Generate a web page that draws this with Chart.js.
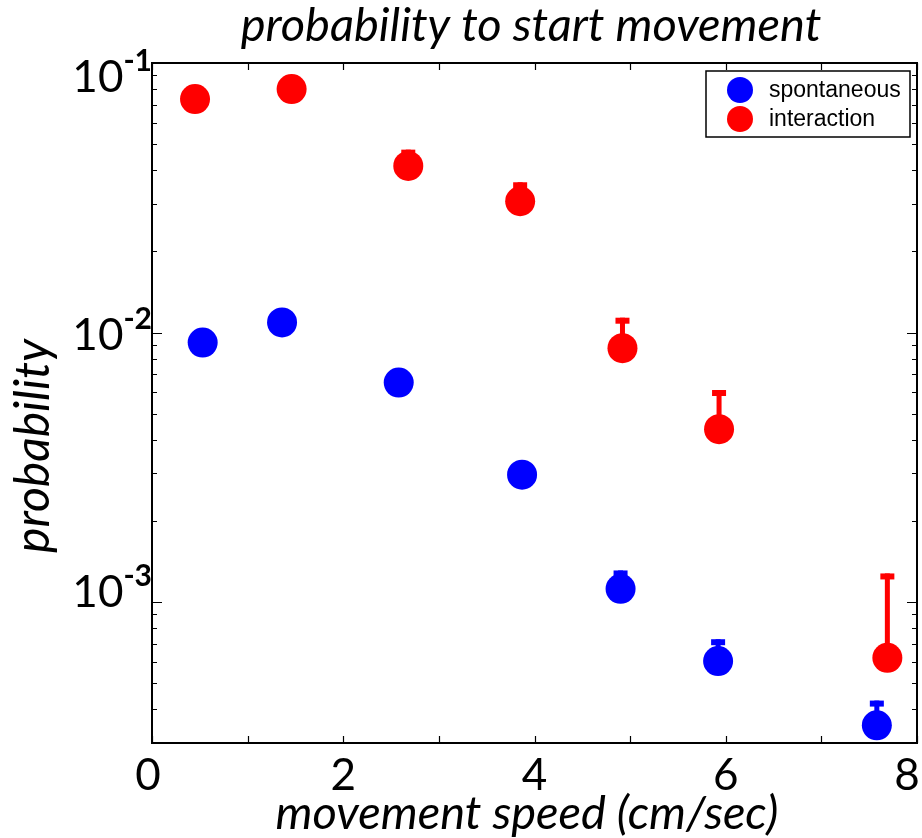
<!DOCTYPE html>
<html>
<head>
<meta charset="utf-8">
<script src="https://cdn.jsdelivr.net/npm/chart.js@4.4.1/dist/chart.umd.min.js"></script>
<style>
  html, body { margin: 0; padding: 0; background: #fff; }
  #wrap { width: 922px; height: 838px; }
</style>
</head>
<body>
<div id="wrap"><canvas id="chart" width="922" height="838"></canvas></div>
<script>
// speed (cm/sec), probability, and upper end of the error bar
const speedInteraction = [0.45, 1.46, 2.68, 3.85, 4.92, 5.93, 7.69];
const probInteraction  = [0.0735, 0.080, 0.0415, 0.0307, 0.00875, 0.00438, 0.000621];
const upperInteraction = [0.0735, 0.080, 0.0477, 0.0361, 0.01135, 0.00612, 0.001277];

const speedSpontaneous = [0.53, 1.36, 2.58, 3.87, 4.90, 5.92, 7.58];
const probSpontaneous  = [0.00918, 0.0109, 0.00652, 0.00297, 0.00112, 0.000604, 0.000349];
const upperSpontaneous = [0.00918, 0.0109, 0.00652, 0.00297, 0.00131, 0.000728, 0.000431];

const xTicks = [0, 1, 2, 3, 4, 5, 6, 7, 8];
const xTickLabels = ['0', '', '2', '', '4', '', '6', '', '8'];
const yMajor = [0.1, 0.01, 0.001];
const yMajorExp = ['-1', '-2', '-3'];

const RED = '#ff0000';
const BLUE = '#0000ff';
const CAL = 'Lato, "Open Sans", sans-serif';

const toPoints = (xs, ys) => xs.map((x, i) => ({ x: x, y: ys[i] }));

// small up-only error bars, drawn under the markers
const errorBars = {
  id: 'errorBars',
  beforeDatasetsDraw(chart) {
    const { ctx, scales } = chart;
    const sets = [
      { xs: speedInteraction, ys: probInteraction, up: upperInteraction, color: RED },
      { xs: speedSpontaneous, ys: probSpontaneous, up: upperSpontaneous, color: BLUE }
    ];
    ctx.save();
    sets.forEach(s => {
      ctx.fillStyle = s.color;
      s.xs.forEach((x, i) => {
        if (s.up[i] <= s.ys[i]) return;
        const px = scales.x.getPixelForValue(x);
        const py = scales.y.getPixelForValue(s.ys[i]);
        const top = scales.y.getPixelForValue(s.up[i]);
        ctx.fillRect(px - 2.5, top, 5, py - top);
        ctx.fillRect(px - 7, top, 14, 6);
      });
    });
    ctx.restore();
  }
};

// axes box, inward ticks, labels, titles and legend in the matlab style
const frame = {
  id: 'frame',
  afterDraw(chart) {
    const { ctx, chartArea: a, scales } = chart;
    ctx.save();
    ctx.strokeStyle = '#000';
    ctx.lineWidth = 2;
    ctx.strokeRect(a.left, a.top, a.right - a.left, a.bottom - a.top);

    ctx.lineWidth = 1.2;
    ctx.beginPath();
    xTicks.forEach(v => {
      const px = Math.round(scales.x.getPixelForValue(v)) + 0.5;
      ctx.moveTo(px, a.bottom); ctx.lineTo(px, a.bottom - 7);
      ctx.moveTo(px, a.top); ctx.lineTo(px, a.top + 7);
    });
    for (let e = -4; e <= -1; e++) {
      for (let m = 1; m <= 9; m++) {
        const v = m * Math.pow(10, e);
        if (v < scales.y.min || v > scales.y.max) continue;
        const py = Math.round(scales.y.getPixelForValue(v)) + 0.5;
        const len = m === 1 ? 10 : 5;
        ctx.moveTo(a.left, py); ctx.lineTo(a.left + len, py);
        ctx.moveTo(a.right, py); ctx.lineTo(a.right - len, py);
      }
    }
    ctx.stroke();

    ctx.fillStyle = '#000';
    // x tick labels
    ctx.font = '44px ' + CAL;
    ctx.textAlign = 'center';
    ctx.textBaseline = 'alphabetic';
    xTicks.forEach((v, i) => {
      if (!xTickLabels[i]) return;
      let px = scales.x.getPixelForValue(v);
      if (i === 0) px -= 4;
      if (i === xTicks.length - 1) px -= 10;
      ctx.fillText(xTickLabels[i], px, 790);
    });

    // y tick labels with superscript exponent
    const nudge = [14, 2, -10];
    yMajor.forEach((v, i) => {
      const py = scales.y.getPixelForValue(v) + nudge[i];
      ctx.textAlign = 'right';
      ctx.font = 'bold 30px ' + CAL;
      const expW = ctx.measureText(yMajorExp[i]).width;
      ctx.fillText(yMajorExp[i], 152, py - 6);
      ctx.font = '44px ' + CAL;
      ctx.fillText('10', 152 - expW, py + 15);
    });

    // titles
    ctx.font = 'italic 47px ' + CAL;
    ctx.textAlign = 'center';
    ctx.fillText('probability to start movement', 531, 41);
    ctx.fillText('movement speed (cm/sec)', 527, 829);
    ctx.save();
    ctx.translate(49, 446);
    ctx.rotate(-Math.PI / 2);
    ctx.font = 'italic 48px ' + CAL;
    ctx.fillText('probability', 0, 0);
    ctx.restore();

    // legend
    ctx.fillStyle = '#fff';
    ctx.fillRect(706, 71, 204, 66);
    ctx.lineWidth = 1.5;
    ctx.strokeRect(706, 71, 204, 66);
    const items = [['spontaneous', BLUE, 90], ['interaction', RED, 119]];
    ctx.font = '23px "Liberation Sans", Arial, sans-serif';
    ctx.textAlign = 'left';
    ctx.textBaseline = 'middle';
    items.forEach(it => {
      ctx.fillStyle = it[1];
      ctx.beginPath();
      ctx.arc(740, it[2], 13, 0, Math.PI * 2);
      ctx.fill();
      ctx.fillStyle = '#000';
      ctx.fillText(it[0], 769, it[2] + 1);
    });
    ctx.restore();
  }
};

new Chart(document.getElementById('chart'), {
  type: 'scatter',
  data: {
    datasets: [{
      label: 'spontaneous',
      data: toPoints(speedSpontaneous, probSpontaneous),
      backgroundColor: BLUE,
      borderWidth: 0,
      pointRadius: 15,
      pointHoverRadius: 15
    }, {
      label: 'interaction',
      data: toPoints(speedInteraction, probInteraction),
      backgroundColor: RED,
      borderWidth: 0,
      pointRadius: 15,
      pointHoverRadius: 15
    }]
  },
  options: {
    responsive: false,
    animation: false,
    layout: { autoPadding: false, padding: { left: 152, right: 5, top: 63, bottom: 95 } },
    plugins: {
      legend: { display: false },
      tooltip: { enabled: false },
      title: { display: false }
    },
    scales: {
      x: { type: 'linear', display: false, min: 0, max: 8 },
      y: { type: 'logarithmic', display: false, min: 3e-4, max: 0.1 }
    }
  },
  plugins: [errorBars, frame]
});
</script>
</body>
</html>
